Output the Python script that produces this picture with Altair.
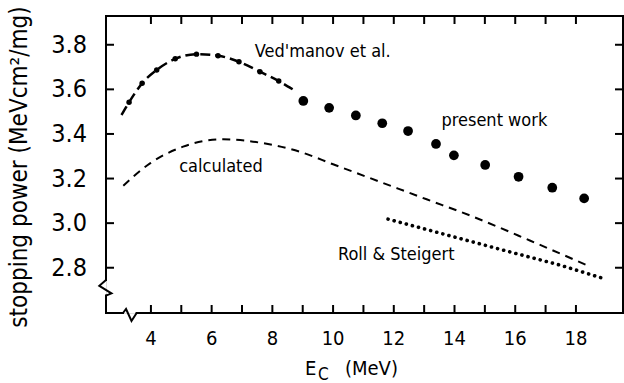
import altair as alt
import pandas as pd

# ---------------- data ----------------
pw_x = [9.02, 9.87, 10.75, 11.62, 12.47, 13.39, 13.98, 15.01, 16.11, 17.22, 18.27]
pw_y = [3.548, 3.517, 3.483, 3.448, 3.413, 3.355, 3.304, 3.261, 3.208, 3.159, 3.111]

ved_x = [3.28, 3.71, 4.19, 4.80, 5.50, 6.21, 6.90, 7.59, 8.21]
ved_y = [3.542, 3.627, 3.687, 3.737, 3.758, 3.751, 3.724, 3.679, 3.637]

ved_curve_x = [3.03, 3.28, 3.71, 4.19, 4.80, 5.50, 6.21, 6.90, 7.59, 8.21, 8.67]
ved_curve_y = [3.485, 3.542, 3.627, 3.687, 3.737, 3.758, 3.751, 3.724, 3.679, 3.637, 3.600]

calc_x = [3.09, 3.97, 5.06, 6.38, 7.59, 8.91, 10.0, 12.14, 13.08, 14.61, 16.5, 18.35]
calc_y = [3.168, 3.268, 3.343, 3.376, 3.361, 3.320, 3.264, 3.155, 3.107, 3.029, 2.921, 2.812]

roll_x = [11.81, 15.60, 17.47, 18.90]
roll_y = [3.018, 2.879, 2.812, 2.752]

label_text = ["Ved'manov et al.", "present work", "calculated", "Roll & Steigert"]
label_x = [7.42, 13.57, 4.93, 10.16]
label_y = [3.767, 3.458, 3.253, 2.859]

x_ticks = list(range(4, 19))
x_labels = [4, 6, 8, 10, 12, 14, 16, 18]
y_ticks = [2.8, 3.0, 3.2, 3.4, 3.6, 3.8]
X_DOM = [2.52, 19.55]
Y_DOM = [2.597, 3.929]
y_title = "stopping power (MeVcm²/mg)"

# axis-break decorations (zigzags)
xbreak_x = [3.08, 3.18, 3.36, 3.53]
xbreak_y = [2.597, 2.615, 2.561, 2.597]
ybreak_x = [2.52, 2.30, 2.70, 2.52]
ybreak_y = [2.745, 2.719, 2.685, 2.675]

FONT = "DejaVu Sans Condensed"
W, H = 517, 297
TL = 8  # inward tick length (px)

xs = alt.Scale(domain=X_DOM, nice=False, zero=False)
ys = alt.Scale(domain=Y_DOM, nice=False, zero=False)

pw = pd.DataFrame({"x": pw_x, "y": pw_y})
ved = pd.DataFrame({"x": ved_x, "y": ved_y})
vedc = pd.DataFrame({"x": ved_curve_x, "y": ved_curve_y})
calc = pd.DataFrame({"x": calc_x, "y": calc_y})
roll = pd.DataFrame({"x": roll_x, "y": roll_y})
labels = pd.DataFrame({"t": label_text, "x": label_x, "y": label_y})
xb = pd.DataFrame({"x": xbreak_x, "y": xbreak_y, "i": range(len(xbreak_x))})
yb = pd.DataFrame({"x": ybreak_x, "y": ybreak_y, "i": range(len(ybreak_x))})
xt = pd.DataFrame({"x": x_ticks})
yt = pd.DataFrame({"y": y_ticks})
xl = pd.DataFrame({"x": x_labels, "t": [str(v) for v in x_labels]})
yl = pd.DataFrame({"y": y_ticks, "t": [f"{v:.1f}" for v in y_ticks]})


def X(f="x"):
    return alt.X(f"{f}:Q", scale=xs, axis=None)


def Y(f="y"):
    return alt.Y(f"{f}:Q", scale=ys, axis=None)


main = alt.Chart(pw).mark_circle(size=95, color="black", opacity=1).encode(x=X(), y=Y())

# frame (split where the axis breaks are)
frame_h = pd.DataFrame({"x": [X_DOM[0], xbreak_x[-1], X_DOM[0]],
                        "x2": [xbreak_x[0], X_DOM[1], X_DOM[1]],
                        "y": [Y_DOM[0], Y_DOM[0], Y_DOM[1]]})
frame_v = pd.DataFrame({"x": [X_DOM[0], X_DOM[0], X_DOM[1]],
                        "y": [Y_DOM[0], ybreak_y[0], Y_DOM[0]],
                        "y2": [ybreak_y[-1], Y_DOM[1], Y_DOM[1]]})
fh = alt.Chart(frame_h).mark_rule(color="black", strokeWidth=2, strokeCap="square").encode(
    x=X(), x2="x2:Q", y=Y())
fv = alt.Chart(frame_v).mark_rule(color="black", strokeWidth=2, strokeCap="square").encode(
    x=X(), y=Y(), y2="y2:Q")
zig_x = alt.Chart(xb).mark_line(color="black", strokeWidth=2, clip=False).encode(
    x=X(), y=Y(), order="i:Q")
zig_y = alt.Chart(yb).mark_line(color="black", strokeWidth=2, clip=False).encode(
    x=X(), y=Y(), order="i:Q")

# inward ticks on all four sides
tk = dict(color="black", strokeWidth=2)
t_bot = alt.Chart(xt).mark_rule(**tk).encode(x=X(), y=alt.value(H), y2=alt.value(H - TL))
t_top = alt.Chart(xt).mark_rule(**tk).encode(x=X(), y=alt.value(0), y2=alt.value(TL))
t_lef = alt.Chart(yt).mark_rule(**tk).encode(y=Y(), x=alt.value(0), x2=alt.value(TL))
t_rig = alt.Chart(yt).mark_rule(**tk).encode(y=Y(), x=alt.value(W), x2=alt.value(W - TL))

# tick labels and y title as text
xlab = alt.Chart(xl).mark_text(align="center", baseline="top", font=FONT, fontSize=20,
                               color="black").encode(x=X(), y=alt.value(H + 16), text="t:N")
ylab = alt.Chart(yl).mark_text(align="right", baseline="middle", font=FONT, fontSize=25,
                               color="black").encode(y=Y(), x=alt.value(-19), text="t:N")
ytit = alt.Chart(pd.DataFrame({"t": [y_title]})).mark_text(
    align="center", baseline="middle", angle=270, font=FONT, fontSize=24, color="black").encode(
    x=alt.value(-86), y=alt.value(151), text="t:N")

ved_line = alt.Chart(vedc).mark_line(color="black", strokeWidth=2.5, strokeDash=[10, 5],
                                     interpolate="monotone").encode(x=X(), y=Y())
ved_pts = alt.Chart(ved).mark_circle(size=30, color="black", opacity=1).encode(x=X(), y=Y())
calc_line = alt.Chart(calc).mark_line(color="black", strokeWidth=2, strokeDash=[8, 6],
                                      interpolate="monotone").encode(x=X(), y=Y())
roll_line = alt.Chart(roll).mark_line(color="black", strokeWidth=3.6, strokeDash=[0.1, 6.2],
                                      strokeCap="round").encode(x=X(), y=Y())

texts = alt.Chart(labels).mark_text(align="left", baseline="middle", font=FONT, fontSize=18,
                                    color="black").encode(x=X(), y=Y(), text="t:N")

# x-axis title with subscript
t_E = alt.Chart(pd.DataFrame({"t": ["E"]})).mark_text(
    align="left", baseline="alphabetic", font=FONT, fontSize=20, color="black").encode(
    x=alt.value(199), y=alt.value(359), text="t:N")
t_C = alt.Chart(pd.DataFrame({"t": ["C"]})).mark_text(
    align="left", baseline="alphabetic", font=FONT, fontSize=17, color="black").encode(
    x=alt.value(212), y=alt.value(364), text="t:N")
t_M = alt.Chart(pd.DataFrame({"t": ["(MeV)"]})).mark_text(
    align="left", baseline="alphabetic", font=FONT, fontSize=20, color="black").encode(
    x=alt.value(239), y=alt.value(359), text="t:N")

chart = alt.layer(
    main, fh, fv, zig_x, zig_y, t_bot, t_top, t_lef, t_rig,
    calc_line, roll_line, ved_line, ved_pts, texts, t_E, t_C, t_M, xlab, ylab, ytit,
).properties(
    width=W, height=H,
    autosize=alt.AutoSizeParams(type="none"),
    padding={"left": 106, "top": 16, "right": 1, "bottom": 70},
).configure_view(stroke="black", strokeWidth=2).configure(background="white")

chart.save("out.html", embed_options={"renderer": "svg", "actions": False})
